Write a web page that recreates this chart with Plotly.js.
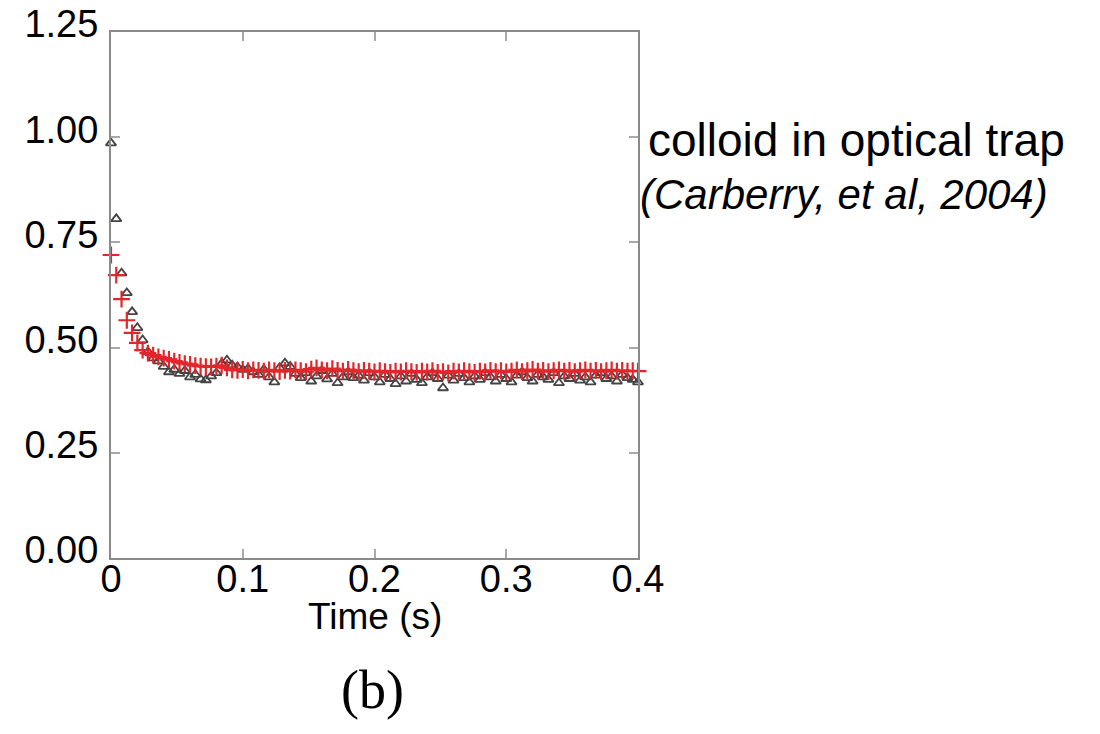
<!DOCTYPE html>
<html>
<head>
<meta charset="utf-8">
<script src="https://cdn.plot.ly/plotly-3.0.1.min.js"></script>
<style>html,body{margin:0;padding:0;background:#fff;}#chart{width:1100px;height:734px;}</style>
</head>
<body>
<div id="chart"></div>
<script>
// Sample times (s)
const time = [0,0.004,0.008,0.012,0.016,0.020,0.024,0.028,0.032,0.036,
0.040,0.044,0.048,0.052,0.056,0.060,0.064,0.068,0.072,0.076,
0.080,0.084,0.088,0.092,0.096,0.100,0.104,0.108,0.112,0.116,
0.120,0.124,0.128,0.132,0.136,0.140,0.144,0.148,0.152,0.156,
0.160,0.164,0.168,0.172,0.176,0.180,0.184,0.188,0.192,0.196,
0.200,0.204,0.208,0.212,0.216,0.220,0.224,0.228,0.232,0.236,
0.240,0.244,0.248,0.252,0.256,0.260,0.264,0.268,0.272,0.276,
0.280,0.284,0.288,0.292,0.296,0.300,0.304,0.308,0.312,0.316,
0.320,0.324,0.328,0.332,0.336,0.340,0.344,0.348,0.352,0.356,
0.360,0.364,0.368,0.372,0.376,0.380,0.384,0.388,0.392,0.396,0.400];

// Red crosses
const redValues = [0.720,0.672,0.615,0.565,0.535,0.511,0.494,0.487,0.482,0.478,
0.475,0.472,0.468,0.465,0.462,0.460,0.457,0.456,0.455,0.454,
0.456,0.458,0.452,0.447,0.446,0.448,0.445,0.447,0.446,0.444,
0.447,0.445,0.443,0.446,0.444,0.447,0.445,0.443,0.449,0.452,
0.447,0.445,0.450,0.446,0.444,0.448,0.445,0.443,0.446,0.444,
0.442,0.445,0.443,0.441,0.444,0.442,0.445,0.443,0.441,0.444,
0.442,0.445,0.441,0.443,0.440,0.444,0.442,0.445,0.443,0.441,
0.444,0.442,0.446,0.443,0.445,0.442,0.444,0.447,0.443,0.445,
0.448,0.444,0.446,0.443,0.445,0.447,0.444,0.446,0.443,0.445,
0.447,0.444,0.446,0.443,0.445,0.447,0.444,0.446,0.444,0.445,0.444];

// Grey triangles
const triValues = [0.986,0.806,0.677,0.630,0.585,0.547,0.518,0.490,0.475,0.468,
0.455,0.442,0.448,0.438,0.445,0.430,0.436,0.425,0.423,0.432,
0.440,0.462,0.470,0.458,0.454,0.448,0.450,0.442,0.436,0.448,
0.430,0.418,0.452,0.463,0.455,0.438,0.428,0.440,0.420,0.432,
0.445,0.425,0.438,0.416,0.430,0.442,0.428,0.434,0.422,0.440,
0.430,0.418,0.436,0.426,0.414,0.432,0.420,0.438,0.424,0.416,
0.430,0.440,0.426,0.404,0.434,0.422,0.438,0.428,0.418,0.432,
0.424,0.440,0.430,0.420,0.436,0.426,0.418,0.434,0.442,0.428,
0.420,0.436,0.430,0.424,0.440,0.416,0.432,0.426,0.438,0.422,
0.430,0.418,0.434,0.440,0.426,0.432,0.420,0.436,0.428,0.424,0.418];

const xTickVals = [0, 0.1, 0.2, 0.3, 0.4];
const xTickText = ['0', '0.1', '0.2', '0.3', '0.4'];
const yTickVals = [0, 0.25, 0.5, 0.75, 1.0, 1.25];
const yTickText = ['0.00', '0.25', '0.50', '0.75', '1.00', '1.25'];

const sans = 'Liberation Sans, Arial, Helvetica, sans-serif';

const traces = [
  {x: time, y: triValues, type: 'scatter', mode: 'markers', cliponaxis: false,
   marker: {symbol: 'triangle-up-open', size: 9, color: '#444444', line: {width: 1.8, color: '#444444'}}},
  {x: time, y: redValues, type: 'scatter', mode: 'markers', cliponaxis: false,
   marker: {symbol: 'cross-thin-open', size: 12, color: '#e3262b', line: {width: 2.2, color: '#e3262b'}}}
];

const axisCommon = {
  showline: true, linecolor: '#8a8a8a', linewidth: 2, mirror: 'ticks',
  ticks: 'inside', ticklen: 9, tickwidth: 2, tickcolor: '#a8a8a8',
  showgrid: false, zeroline: false, fixedrange: true,
  tickfont: {family: sans, size: 38, color: '#000'}
};

const layout = {
  width: 1100, height: 734,
  margin: {l: 111, r: 462, t: 32, b: 176, autoexpand: false},
  paper_bgcolor: '#fff', plot_bgcolor: '#fff',
  showlegend: false,
  xaxis: Object.assign({}, axisCommon, {
    range: [0, 0.4], tickmode: 'array', tickvals: xTickVals, ticktext: xTickText,
    ticklabelstandoff: -14
  }),
  yaxis: Object.assign({}, axisCommon, {
    range: [0, 1.25], tickmode: 'array', tickvals: yTickVals, ticktext: yTickText,
    ticklabelstandoff: 3, ticklabelshift: -8
  }),
  annotations: [
    {xref: 'paper', yref: 'paper', x: 0.5, y: -0.112, xanchor: 'center', yanchor: 'middle',
     text: 'Time (s)', showarrow: false,
     font: {family: sans, size: 37, color: '#000'}},
    {xref: 'paper', yref: 'paper', x: 1.015, y: 0.795, xanchor: 'left', yanchor: 'middle',
     text: 'colloid in optical trap', showarrow: false,
     font: {family: sans, size: 46, color: '#000'}},
    {xref: 'paper', yref: 'paper', x: 1.0, y: 0.692, xanchor: 'left', yanchor: 'middle',
     text: '<i>(Carberry, et al, 2004)</i>', showarrow: false,
     font: {family: sans, size: 42, color: '#000'}},
    {xref: 'paper', yref: 'paper', x: 0.497, y: -0.251, xanchor: 'center', yanchor: 'middle',
     text: '(b)', showarrow: false,
     font: {family: 'Liberation Serif, Times New Roman, serif', size: 54, color: '#000'}}
  ]
};

Plotly.newPlot('chart', traces, layout, {displayModeBar: false, staticPlot: true});
</script>
</body>
</html>
